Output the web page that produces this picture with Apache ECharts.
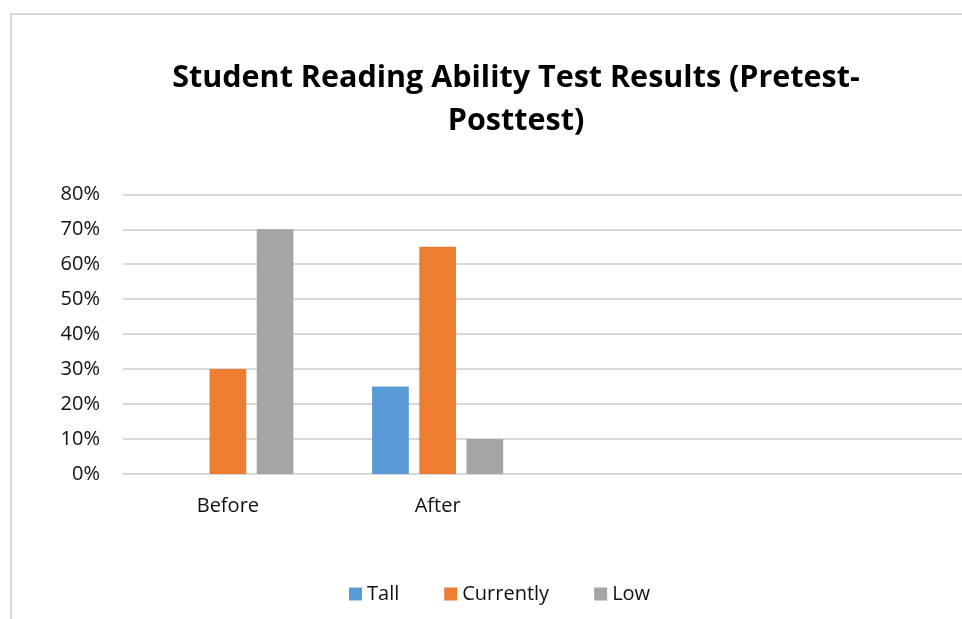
<!DOCTYPE html>
<html>
<head>
<meta charset="utf-8">
<script src="https://cdn.jsdelivr.net/npm/echarts@6/dist/echarts.min.js"></script>
<style>
html,body{margin:0;padding:0;background:#fff;}
#chart{width:962px;height:619px;}
</style>
</head>
<body>
<div id="chart"></div>
<script>
const categories = ['Before', 'After', '', ''];
const tallValues = [0, 25];
const currentlyValues = [30, 65];
const lowValues = [70, 10];
const yTicks = [0, 10, 20, 30, 40, 50, 60, 70, 80];

const chart = echarts.init(document.getElementById('chart'), null, {renderer: 'canvas'});
const font = '"Open Sans", sans-serif';
const option = {
  animation: false,
  backgroundColor: '#ffffff',
  graphic: [{
    type: 'rect',
    shape: {x: 11, y: 14, width: 1000, height: 700},
    style: {fill: 'none', stroke: '#d9d9d9', lineWidth: 2},
    silent: true
  }],
  title: {
    text: 'Student Reading Ability Test Results (Pretest-\nPosttest)',
    left: 511,
    textAlign: 'center',
    top: 52,
    textStyle: {fontFamily: font, fontWeight: 'bold', fontSize: 30.5, color: '#000', lineHeight: 43}
  },
  legend: {
    data: ['Tall', 'Currently', 'Low'],
    left: 344,
    top: 579,
    itemWidth: 13,
    itemHeight: 13,
    itemGap: 45,
    icon: 'rect',
    textStyle: {fontFamily: font, fontSize: 20, color: '#111'}
  },
  grid: {left: 123, right: -1, top: 194.3, bottom: 145, containLabel: false},
  xAxis: {
    type: 'category',
    data: categories,
    axisLine: {show: true, lineStyle: {color: '#d9d9d9', width: 2}},
    axisTick: {show: false},
    axisLabel: {fontFamily: font, fontSize: 20, color: '#111', margin: 22, interval: 0}
  },
  yAxis: {
    type: 'value',
    min: 0,
    max: 80,
    interval: 10,
    axisLine: {show: false},
    axisTick: {show: false},
    splitLine: {lineStyle: {color: '#d9d9d9', width: 2}},
    axisLabel: {fontFamily: font, fontSize: 20, color: '#111', margin: 23, formatter: v => v + '%'}
  },
  series: [
    {name: 'Tall', type: 'bar', data: tallValues, barWidth: 36.7, barGap: '28.6%', itemStyle: {color: '#5B9BD5'}},
    {name: 'Currently', type: 'bar', data: currentlyValues, barWidth: 36.7, barGap: '28.6%', itemStyle: {color: '#ED7D31'}},
    {name: 'Low', type: 'bar', data: lowValues, barWidth: 36.7, barGap: '28.6%', itemStyle: {color: '#A5A5A5'}}
  ]
};
chart.setOption(option);
</script>
</body>
</html>
